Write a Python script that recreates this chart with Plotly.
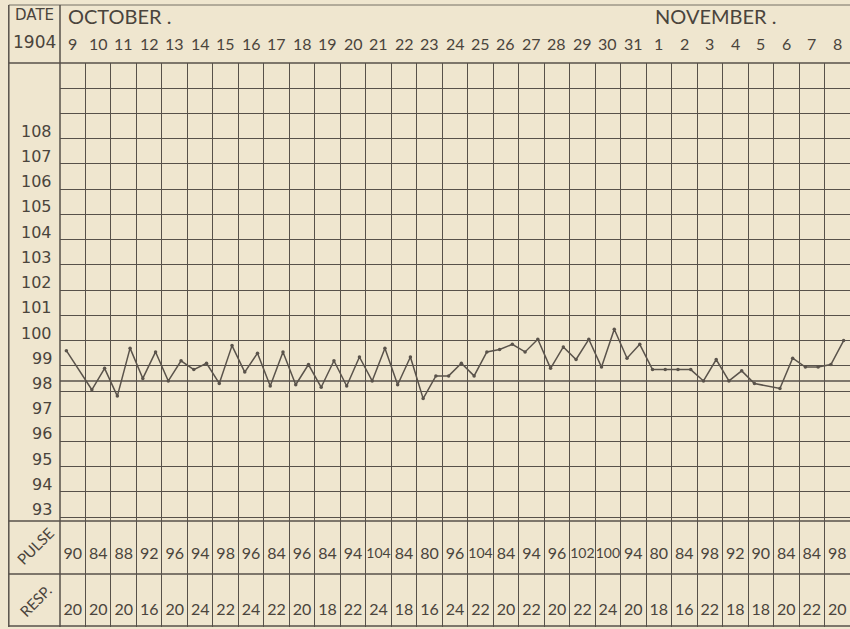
import plotly.graph_objects as go

# ---------------- data ----------------
day_labels = ["9", "10", "11", "12", "13", "14", "15", "16", "17", "18", "19", "20",
              "21", "22", "23", "24", "25", "26", "27", "28", "29", "30", "31",
              "1", "2", "3", "4", "5", "6", "7", "8"]
month_labels = ["OCTOBER .", "NOVEMBER ."]
month_first_col = [0, 23]

# temperature (deg F), morning and evening readings per day
temp_am = [99.6, 98.05, 97.8, 98.5, 98.4, 98.85, 98.3, 98.75, 98.2, 98.25, 98.15,
           98.2, 98.4, 98.25, 97.7, 98.6, 98.6, 99.65, 99.55, 98.9, 99.25, 98.95,
           99.3, 98.85, 98.85, 98.4, 98.4, 98.3, 98.1, 98.95, 99.05]
temp_pm = [None, 98.9, 99.7, 99.55, 99.2, 99.1, 99.8, 99.5, 99.55, 99.05, 99.2,
           99.35, 99.7, 99.35, 98.6, 99.1, 99.55, 99.85, 100.05, 99.75, 100.05, 100.45,
           99.85, 98.85, 98.85, 99.25, 98.8, None, 99.3, 98.95, 100.0]

pulse = [90, 84, 88, 92, 96, 94, 98, 96, 84, 96, 84, 94, 104, 84, 80, 96, 104, 84,
         94, 96, 102, 100, 94, 80, 84, 98, 92, 90, 84, 84, 98]
resp = [20, 20, 20, 16, 20, 24, 22, 24, 22, 20, 18, 22, 24, 18, 16, 24, 22, 20,
        22, 20, 22, 24, 20, 18, 16, 22, 18, 18, 20, 22, 20]

temp_tick_labels = [108, 107, 106, 105, 104, 103, 102, 101, 100, 99, 98, 97, 96, 95, 94, 93]
normal_temp = 98.4

# ---------------- style ----------------
BG = "#efe6cf"
LINE = "#57514a"
INK = "#4a443c"
FONT = "Lato"
FONT2 = "DejaVu Sans"
W, H = 850, 629
ML, MT, MB = 60, 63, 2
PH = H - MT - MB
PW = W - ML


def py(px):
    """pixel y (from top) -> paper y"""
    return (H - MB - px) / PH


def pxx(px):
    """pixel x -> paper x"""
    return (px - ML) / PW


n = len(day_labels)
slots = [0.25, 0.75]
xs, ys = [], []
for i in range(n):
    for s, arr in zip(slots, (temp_am, temp_pm)):
        if arr[i] is not None:
            xs.append(i + s)
            ys.append(arr[i])

fig = go.Figure()
fig.add_trace(go.Scatter(x=xs, y=ys, mode="lines+markers", xaxis="x", yaxis="y",
                         line=dict(color="#5a534b", width=1.5),
                         marker=dict(size=3.5, color="#5a534b"),
                         hoverinfo="skip", cliponaxis=False))
centers = [i + 0.5 for i in range(n)]


def sizes(vals):
    return [14 if v >= 100 else 16 for v in vals]


fig.add_trace(go.Scatter(x=centers, y=[0.36] * n, mode="text", xaxis="x2", yaxis="y2",
                         text=[str(v) for v in pulse], cliponaxis=False,
                         textfont=dict(family=FONT, size=sizes(pulse), color=INK),
                         hoverinfo="skip"))
fig.add_trace(go.Scatter(x=centers, y=[0.30] * n, mode="text", xaxis="x3", yaxis="y3",
                         text=[str(v) for v in resp], cliponaxis=False,
                         textfont=dict(family=FONT, size=16, color=INK), hoverinfo="skip"))

temp_bottom = py(521)
resp_top = py(574)
xcommon = dict(range=[0, n], tickvals=list(range(n + 1)), showgrid=True, gridcolor=LINE,
               gridwidth=1.4, showticklabels=False, ticks="", zeroline=False, showline=False,
               fixedrange=True)
fig.update_layout(
    width=W, height=H, margin=dict(l=ML, r=0, t=MT, b=MB),
    paper_bgcolor=BG, plot_bgcolor=BG, showlegend=False,
    xaxis=dict(domain=[0, 1], anchor="y", **xcommon),
    xaxis2=dict(domain=[0, 1], anchor="y2", matches="x", **xcommon),
    xaxis3=dict(domain=[0, 1], anchor="y3", matches="x", **xcommon),
    yaxis=dict(domain=[temp_bottom, 1], range=[92.85, 111], tickvals=list(range(93, 111)),
               showgrid=True, gridcolor=LINE, gridwidth=1.4, showticklabels=False,
               ticks="", zeroline=False, showline=False),
    yaxis2=dict(domain=[resp_top, temp_bottom], range=[0, 1], showgrid=False,
                showticklabels=False, ticks="", zeroline=False),
    yaxis3=dict(domain=[0, resp_top], range=[0, 1], showgrid=False,
                showticklabels=False, ticks="", zeroline=False),
)

shapes = []
lw = 1.5
left = pxx(8.8)
top = py(5)
# outer frame & dividers
shapes.append(dict(type="line", xref="paper", yref="paper", x0=left, x1=left, y0=0, y1=top,
                   line=dict(color=LINE, width=lw)))
shapes.append(dict(type="line", xref="paper", yref="paper", x0=left, x1=1.01, y0=top, y1=top,
                   line=dict(color=LINE, width=0.8)))
shapes.append(dict(type="line", xref="paper", yref="paper", x0=0, x1=0, y0=0, y1=top,
                   line=dict(color=LINE, width=lw)))
for yy in (1, temp_bottom, resp_top, py(626)):
    shapes.append(dict(type="line", xref="paper", yref="paper", x0=left, x1=1.01, y0=yy, y1=yy,
                       line=dict(color=LINE, width=lw)))
# normal line
shapes.append(dict(type="line", xref="x", yref="y", x0=0, x1=n, y0=normal_temp, y1=normal_temp,
                   line=dict(color=LINE, width=1.4)))
fig.update_layout(shapes=shapes)

ann = []
C = dict(showarrow=False, xanchor="center", yanchor="middle")
ann.append(dict(text="DATE", xref="paper", yref="paper", x=pxx(34), y=py(15),
                font=dict(family=FONT2, size=15, color=INK), **C))
ann.append(dict(text="1904", xref="paper", yref="paper", x=pxx(34), y=py(42),
                font=dict(family=FONT2, size=17, color=INK), **C))
for lab, c in zip(month_labels, month_first_col):
    ann.append(dict(text=lab, xref="x", yref="paper", x=c + 0.25, y=py(16), xanchor="left",
                    yanchor="middle", showarrow=False,
                    font=dict(family=FONT, size=20, color=INK)))
for i, lab in enumerate(day_labels):
    ann.append(dict(text=lab, xref="x", yref="paper", x=i + 0.5, y=py(43),
                    font=dict(family=FONT, size=16, color=INK), **C))
for v in temp_tick_labels:
    ann.append(dict(text=str(v), xref="paper", yref="y", x=pxx(54), y=v + 0.3, xanchor="right",
                    yanchor="middle", showarrow=False,
                    font=dict(family=FONT2, size=16, color=INK)))
ann.append(dict(text="PULSE", xref="paper", yref="paper", x=pxx(35), y=py(546), textangle=-45,
                font=dict(family=FONT, size=15, color=INK), **C))
ann.append(dict(text="RESP.", xref="paper", yref="paper", x=pxx(35), y=py(601), textangle=-45,
                font=dict(family=FONT, size=15, color=INK), **C))
fig.update_layout(annotations=ann)

fig.write_html("out.html", config={"displayModeBar": False},
               post_script="document.body.style.margin='0';")
